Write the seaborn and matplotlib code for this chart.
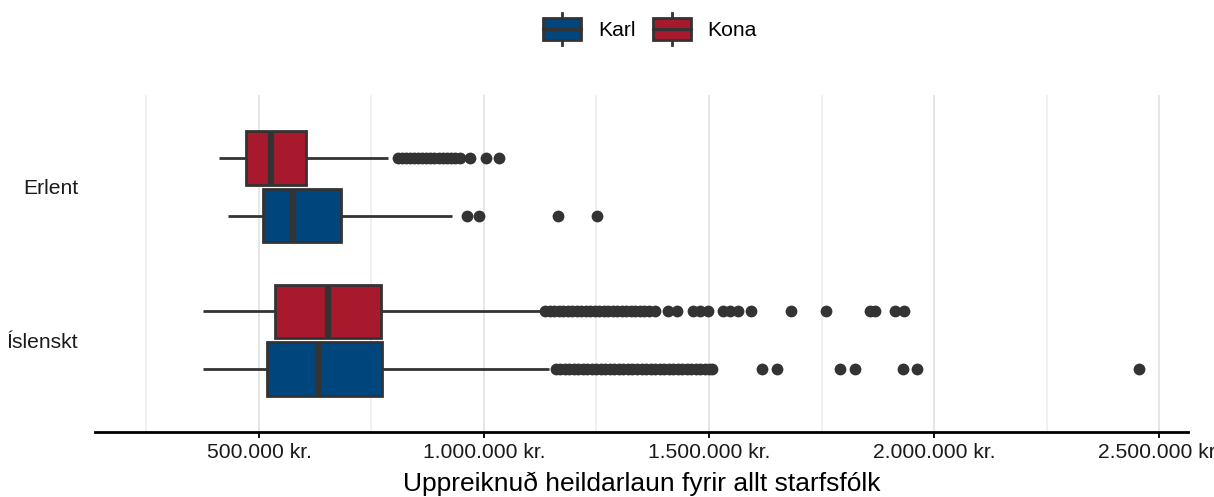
import pandas as pd
import matplotlib.pyplot as plt
import seaborn as sns
from matplotlib.legend_handler import HandlerBase
from matplotlib.patches import Patch, Rectangle
from matplotlib.lines import Line2D
from matplotlib.ticker import FuncFormatter, MultipleLocator

# Box summaries, in thousands of kr.
groups = ["Erlent", "Erlent", "Íslenskt", "Íslenskt"]
sexes = ["Kona", "Karl", "Kona", "Karl"]
whisker_low = [411, 431, 376, 376]
q1 = [471, 509, 535, 518]
median = [527, 576, 653, 631]
q3 = [604, 682, 772, 773]
whisker_high = [787, 929, 1124, 1145]

# Outlier points (thousands of kr.)
out_erlent_kona = [809, 818, 827, 836, 845, 854, 863, 872, 881, 890, 899,
                   908, 917, 926, 935, 947, 969, 1004, 1033]
out_erlent_karl = [962, 989, 1164, 1251]
out_isl_kona = [1136, 1146, 1156, 1166, 1176, 1186, 1196, 1206, 1216, 1226,
                1236, 1246, 1256, 1266, 1276, 1286, 1296, 1306, 1316, 1326,
                1336, 1346, 1356, 1366, 1380, 1409, 1429, 1464, 1480, 1498,
                1531, 1547, 1564, 1593, 1682, 1760, 1858, 1869, 1913, 1933]
out_isl_karl = [1160, 1170, 1180, 1190, 1200, 1210, 1220, 1230, 1240, 1250,
                1260, 1270, 1280, 1290, 1300, 1310, 1320, 1330, 1340, 1350,
                1360, 1370, 1380, 1390, 1400, 1410, 1420, 1430, 1440, 1450,
                1460, 1470, 1480, 1490, 1500, 1507, 1618, 1651, 1791, 1824,
                1931, 1962, 2455]
outliers = [out_erlent_kona, out_erlent_karl, out_isl_kona, out_isl_karl]

colors = {"Karl": "#00457c", "Kona": "#a8192e"}
edge = "#333333"

# build a sample per box whose quartiles/whiskers match the summaries
rows = []
for i in range(len(groups)):
    vals = ([whisker_low[i]] + [q1[i]] * 1000 + [median[i]] * 1000 +
            [q3[i]] * 1000 + [whisker_high[i]] + outliers[i])
    for v in vals:
        rows.append((groups[i], sexes[i], v * 1000))
df = pd.DataFrame(rows, columns=["uppruni", "kyn", "laun"])

plt.rcParams["font.family"] = ["Liberation Sans", "DejaVu Sans"]

fig = plt.figure(figsize=(12.14, 4.97), dpi=100)
ax = fig.add_axes([95 / 1214, 1 - 432 / 497, (1188 - 95) / 1214, (432 - 95) / 497])

sns.boxplot(data=df, x="laun", y="uppruni", hue="kyn", hue_order=["Kona", "Karl"],
            palette=colors, saturation=1, width=0.75, gap=0.07, linewidth=2,
            linecolor=edge, whis=1.5, legend=False, ax=ax,
            medianprops={"linewidth": 4.5, "color": edge},
            capprops={"visible": False},
            flierprops={"marker": "o", "markersize": 8.5, "markerfacecolor": edge,
                        "markeredgecolor": edge, "markeredgewidth": 0})

ax.set_xlim(135556, 2564444)
ax.set_ylim(1.6, -0.6)
ax.set_xticks([500000, 1000000, 1500000, 2000000, 2500000])
ax.xaxis.set_minor_locator(MultipleLocator(250000))
ax.xaxis.set_major_formatter(FuncFormatter(lambda v, p: f"{int(v):,}".replace(",", ".") + " kr."))
ax.grid(axis="x", which="major", color="#e6e6e6", linewidth=1.4)
ax.grid(axis="x", which="minor", color="#ececec", linewidth=1.1)
ax.set_axisbelow(True)
for s in ["top", "right", "left"]:
    ax.spines[s].set_visible(False)
ax.spines["bottom"].set_linewidth(2)
ax.spines["bottom"].set_color("black")
ax.tick_params(axis="x", which="major", length=4, width=1.3, pad=4, labelsize=15.2, labelcolor="#1a1a1a")
ax.tick_params(axis="x", which="minor", length=0)
ax.tick_params(axis="y", length=0, pad=12, labelsize=15.2, labelcolor="#1a1a1a")
ax.set_ylabel("")
ax.set_xlabel("Uppreiknuð heildarlaun fyrir allt starfsfólk", fontsize=19, labelpad=7)


class BoxKey(HandlerBase):
    def create_artists(self, legend, orig_handle, xdescent, ydescent, width, height, fontsize, trans):
        x0, y0 = -xdescent, -ydescent
        stub = height * 0.15
        rect = Rectangle((x0, y0 + stub), width, height - 2 * stub,
                         facecolor=orig_handle.get_facecolor(), edgecolor=edge,
                         linewidth=2, transform=trans)
        mid = Line2D([x0, x0 + width], [y0 + height / 2] * 2, color=edge, lw=2.2, transform=trans)
        top = Line2D([x0 + width / 2] * 2, [y0 + height - stub, y0 + height], color=edge, lw=2, transform=trans)
        bot = Line2D([x0 + width / 2] * 2, [y0, y0 + stub], color=edge, lw=2, transform=trans)
        return [rect, mid, top, bot]


handles = [Patch(facecolor=colors["Karl"]), Patch(facecolor=colors["Kona"])]
fig.legend(handles, ["Karl", "Kona"], handler_map={Patch: BoxKey()},
           loc="center", bbox_to_anchor=(650 / 1214, 1 - 29 / 497), ncol=2,
           frameon=False, fontsize=15.2, handlelength=1.8, handleheight=1.9,
           handletextpad=0.8, columnspacing=0.8)

fig.savefig("out.png", dpi=100)
